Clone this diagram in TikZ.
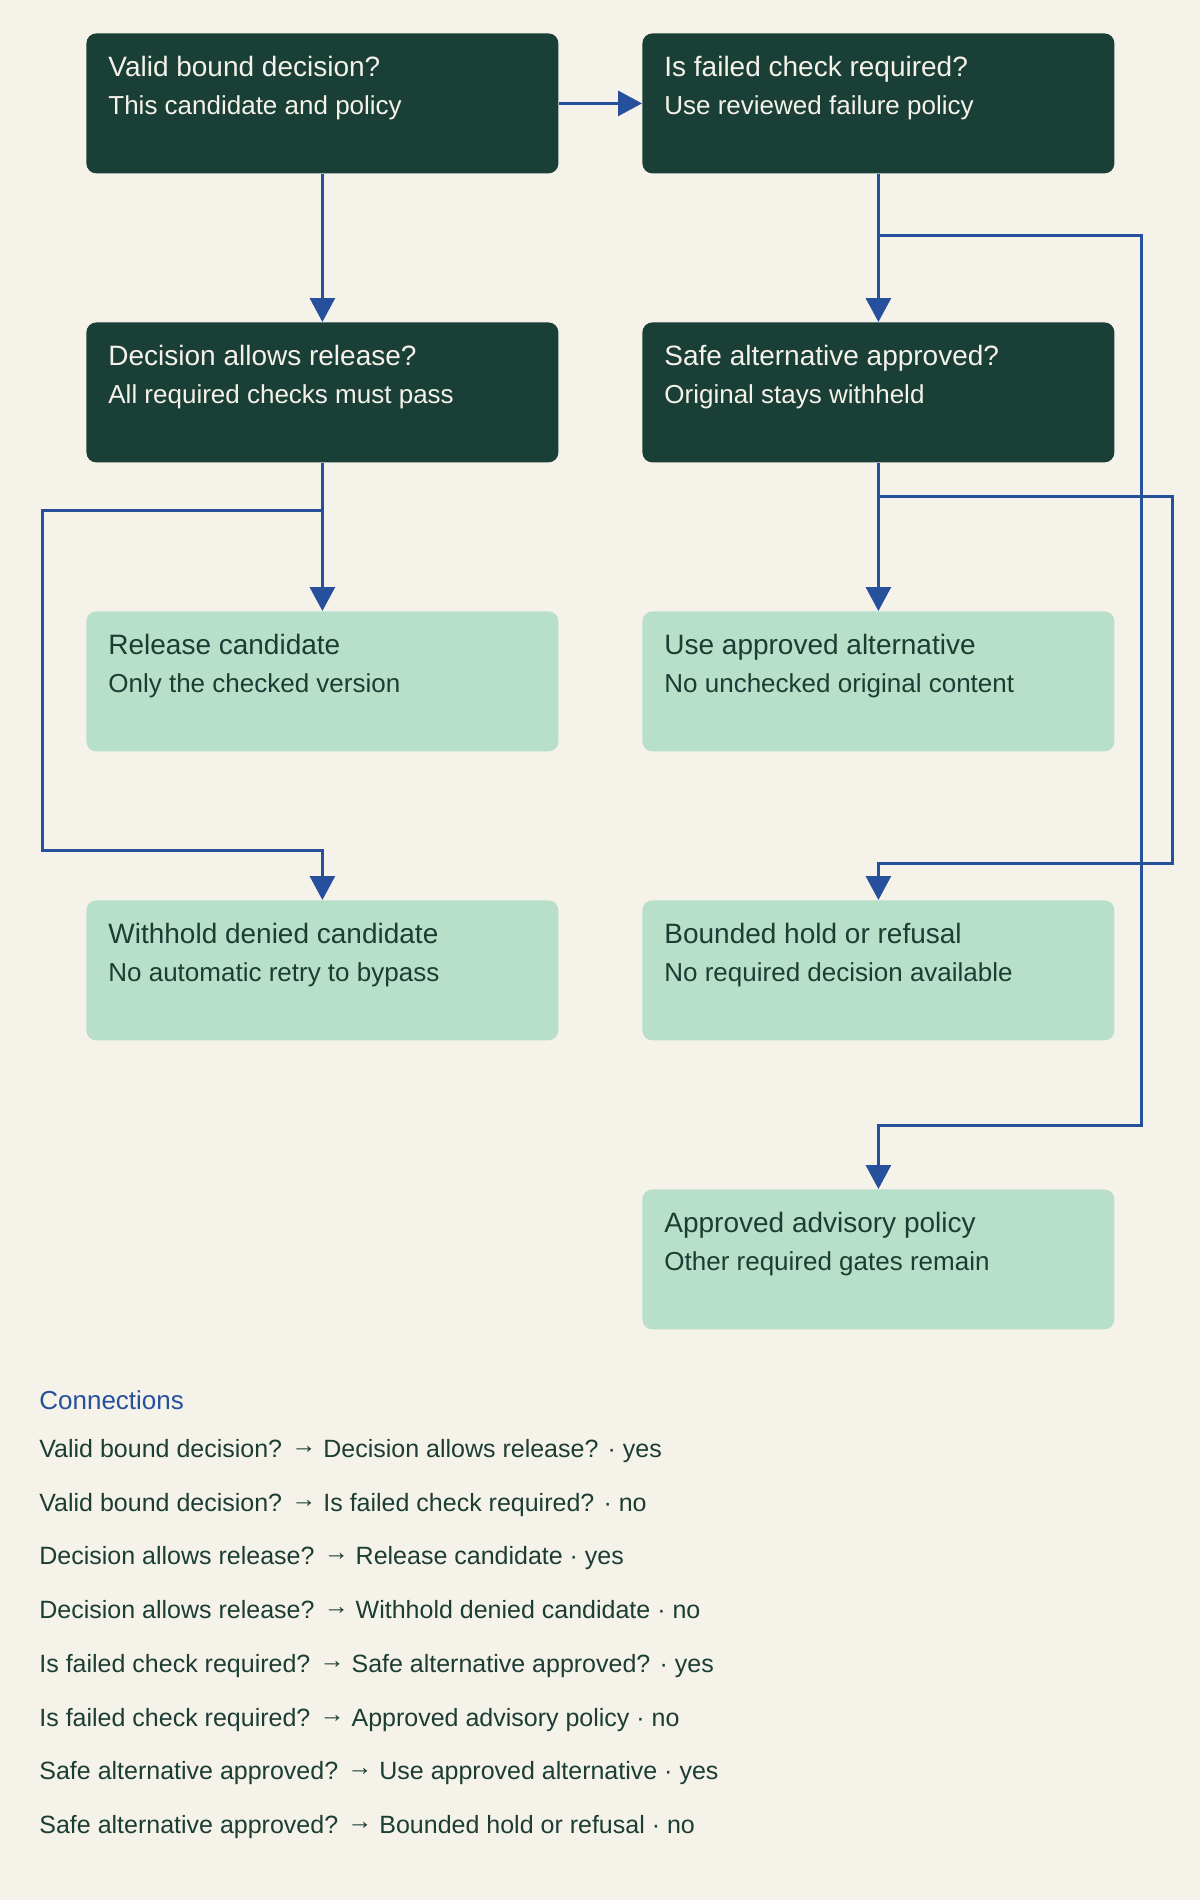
\documentclass[tikz,border=0pt]{standalone}
\usepackage{fontspec}
\setmainfont{Liberation Sans}
\usepackage{tikz}
\usetikzlibrary{arrows.meta,positioning}
\usepackage{xcolor}
\definecolor{dfbg}{RGB}{245,242,234}
\definecolor{dfdark}{RGB}{26,63,54}
\definecolor{dflight}{RGB}{184,223,201}
\definecolor{dfblue}{RGB}{38,80,155}
\definecolor{dftext}{RGB}{28,61,52}
\definecolor{dfpale}{RGB}{245,242,234}
\newcommand{\linkto}{\raisebox{1.6pt}{→}}
\tikzstyle{arrow} = [line width=1.5pt,-{Triangle[length=12pt,width=12.5pt]},color=dfblue]
\tikzstyle{gate} = [draw=none,fill=dfdark,rounded corners=5pt,anchor=north west,minimum width=236pt,minimum height=70pt,inner sep=0pt]
\tikzstyle{outcome} = [gate,fill=dflight]
\tikzstyle{head} = [anchor=base west,inner sep=0pt,font=\fontsize{14}{17}\selectfont]
\tikzstyle{sub} = [anchor=base west,inner sep=0pt,font=\fontsize{13}{16}\selectfont]
\tikzstyle{entry} = [anchor=base west,inner sep=0pt,text=dftext,font=\fontsize{12.5}{15}\selectfont]

\begin{document}
\begin{tikzpicture}[x=0.5pt,y=-0.5pt]
\fill[dfbg] (0,0) rectangle (1200,1900);
\useasboundingbox (0,0) rectangle (1200,1900);

% Decision boxes
\node[gate] (valid) at (86,33) {};
\node[head, text=dfpale] (validh) at (108,76) {Valid bound decision?};
\node[sub, text=dfpale] (valids) at (108,114) {This candidate and policy};

\node[gate] (failed) at (642,33) {};
\node[head, text=dfpale] (failedh) at (664,76) {Is failed check required?};
\node[sub, text=dfpale] (faileds) at (664,114) {Use reviewed failure policy};

\node[gate] (allow) at (86,322) {};
\node[head, text=dfpale] (allowh) at (108,365) {Decision allows release?};
\node[sub, text=dfpale] (allows) at (108,403) {All required checks must pass};

\node[gate] (safe) at (642,322) {};
\node[head, text=dfpale] (safeh) at (664,365) {Safe alternative approved?};
\node[sub, text=dfpale] (safes) at (664,403) {Original stays withheld};

% Outcome boxes
\node[outcome] (release) at (86,611) {};
\node[head, text=dftext] (releaseh) at (108,654) {Release candidate};
\node[sub, text=dftext] (releases) at (108,692) {Only the checked version};

\node[outcome] (usealt) at (642,611) {};
\node[head, text=dftext] (usealth) at (664,654) {Use approved alternative};
\node[sub, text=dftext] (usealts) at (664,692) {No unchecked original content};

\node[outcome] (withhold) at (86,900) {};
\node[head, text=dftext] (withholdh) at (108,943) {Withhold denied candidate};
\node[sub, text=dftext] (withholds) at (108,981) {No automatic retry to bypass};

\node[outcome] (bounded) at (642,900) {};
\node[head, text=dftext] (boundedh) at (664,943) {Bounded hold or refusal};
\node[sub, text=dftext] (boundeds) at (664,981) {No required decision available};

\node[outcome] (advisory) at (642,1189) {};
\node[head, text=dftext] (advisoryh) at (664,1232) {Approved advisory policy};
\node[sub, text=dftext] (advisorys) at (664,1270) {Other required gates remain};

% Connectors
\draw[arrow] (valid.east) -- (failed.west);
\draw[arrow] (valid.south) -- (allow.north);
\draw[arrow] (allow.south) -- (release.north);
\draw[arrow] (allow.south) -- ++(0,48) -| (42,850) -| (withhold.north);
\draw[arrow] (failed.south) -- (safe.north);
\draw[arrow] (failed.south) -- ++(0,62) -| (1141,1125) -| (advisory.north);
\draw[arrow] (safe.south) -- (usealt.north);
\draw[arrow] (safe.south) -- ++(0,34) -| (1172,863) -| (bounded.north);

% Connection list
\node[anchor=base west, inner sep=0pt, text=dfblue, font=\fontsize{13}{16}\selectfont] (conn) at (39,1409) {Connections};
\node[entry] (c1) at (39,1457) {Valid bound decision? \linkto{} Decision allows release? · yes};
\node[entry] (c2) at (39,1511) {Valid bound decision? \linkto{} Is failed check required? · no};
\node[entry] (c3) at (39,1564) {Decision allows release? \linkto{} Release candidate · yes};
\node[entry] (c4) at (39,1618) {Decision allows release? \linkto{} Withhold denied candidate · no};
\node[entry] (c5) at (39,1672) {Is failed check required? \linkto{} Safe alternative approved? · yes};
\node[entry] (c6) at (39,1726) {Is failed check required? \linkto{} Approved advisory policy · no};
\node[entry] (c7) at (39,1779) {Safe alternative approved? \linkto{} Use approved alternative · yes};
\node[entry] (c8) at (39,1833) {Safe alternative approved? \linkto{} Bounded hold or refusal · no};
\end{tikzpicture}
\end{document}
